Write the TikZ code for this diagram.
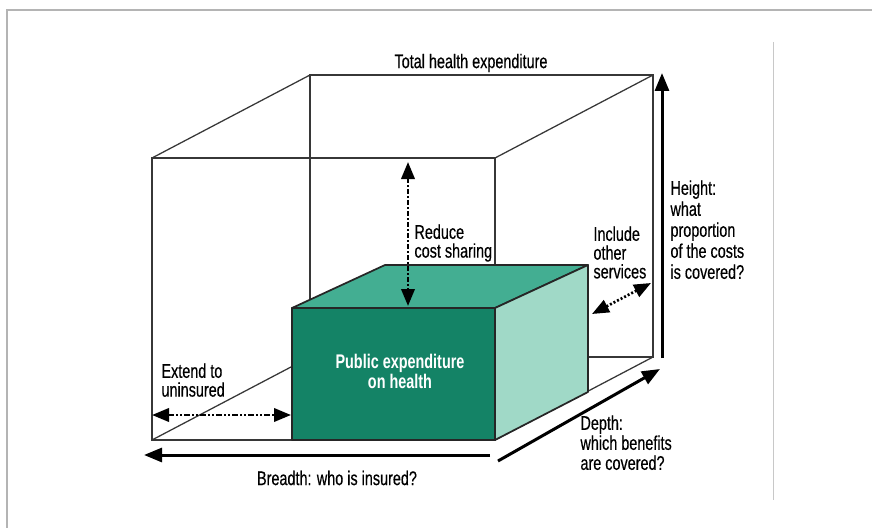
\documentclass[tikz,border=0pt]{standalone}
\usepackage{fontspec}
\setmainfont{Liberation Sans}[FakeStretch=0.73,UprightFeatures={FakeBold=0.4}]
\usetikzlibrary{arrows.meta}
\tikzset{every picture/.style={line width=0.75pt}}
\definecolor{boxfront}{RGB}{20,131,102}
\definecolor{boxtop}{RGB}{67,174,146}
\definecolor{boxside}{RGB}{160,217,199}
\definecolor{wire}{RGB}{55,55,55}

\begin{document}
\begin{tikzpicture}[x=0.75pt,y=0.75pt,yscale=-1,xscale=1,
	cube/.style={draw=wire,line width=0.95pt},
	boxface/.style={draw=black!85,line width=1.3pt,line join=round},
	bigarrow/.style={line width=2.25pt,-{Triangle[length=13.5pt,width=10.5pt]}},
	twoway/.style={line width=2pt,{Triangle[length=12.75pt,width=10pt]}-{Triangle[length=12.75pt,width=10pt]}},
	note/.style={font=\fontsize{14.8}{14.1}\selectfont,align=left,inner sep=0pt,anchor=north west}]
		\useasboundingbox (0,0) rectangle (872,528);
		
		%Shape: Page frame
		\draw [color={rgb, 255:red, 180; green, 180; blue, 180 },line width=1.5pt] (7,528) -- (7,10) -- (872,10) ;
		\draw [color={rgb, 255:red, 200; green, 200; blue, 200 },line width=0.75pt] (773,42) -- (773,500) ;
		
		%Corners of the total cube
		\coordinate (ftl) at (152,158);
		\coordinate (ftr) at (495,158);
		\coordinate (fbl) at (152,440);
		\coordinate (fbr) at (495,440);
		\coordinate (btl) at (310,75);
		\coordinate (btr) at (653,75);
		\coordinate (bbl) at (310,357);
		\coordinate (bbr) at (653,357);
		
		%Corners of the public box
		\coordinate (pfl) at (292,308);
		\coordinate (pfr) at (495,308);
		\coordinate (pbl) at (292,440);
		\coordinate (pbr) at (495,440);
		\coordinate (ptl) at (385,265);
		\coordinate (ptr) at (588,265);
		\coordinate (psb) at (588,392);
		
		%Shape: Total cube (wire)
		\draw [cube] (fbl) -- (ftl) -- (ftr) -- (fbr) -- cycle ;
		\draw [cube] (btl) -- (btr) -- (bbr) -- (bbl) -- cycle ;
		\draw [cube] (ftl) -- (btl) (ftr) -- (btr) (fbl) -- (bbl) (fbr) -- (bbr) ;
		
		%Shape: Public box
		\filldraw [boxface,fill=boxfront] (pfl) -- (pfr) -- (pbr) -- (pbl) -- cycle ;
		\filldraw [boxface,fill=boxtop] (pfl) -- (pfr) -- (ptr) -- (ptl) -- cycle ;
		\filldraw [boxface,fill=boxside] (pfr) -- (ptr) -- (psb) -- (pbr) -- cycle ;
		
		%Arrow ends
		\coordinate (h0) at (662,358);
		\coordinate (h1) at (662,73);
		\coordinate (b0) at (490,455);
		\coordinate (b1) at (144,455);
		\coordinate (d0) at (498,461);
		\coordinate (d1) at (660,369);
		\coordinate (r0) at (408,162);
		\coordinate (r1) at (408,306);
		\coordinate (i0) at (592,314);
		\coordinate (i1) at (651,283);
		\coordinate (e0) at (152,415);
		\coordinate (e1) at (291,415);
		
		%Straight Lines: dimensions
		\draw [bigarrow] (h0) -- (h1) ;
		\draw [bigarrow] (b0) -- (b1) ;
		\draw [bigarrow] (d0) -- (d1) ;
		
		%Straight Lines: changes
		\draw [twoway,dash pattern=on 3.75pt off 1.5pt on 1.5pt off 1.5pt] (r0) -- (r1) ;
		\draw [twoway,dash pattern=on 1.5pt off 1.5pt] (i0) -- (i1) ;
		\draw [twoway,dash pattern=on 4.5pt off 1.5pt on 1.5pt off 1.5pt on 1.5pt off 1.5pt] (e0) -- (e1) ;
		
		% Text Node
		\node [note,anchor=center] (total) at (471,63) {Total health expenditure};
		% Text Node
		\node [note,anchor=center,font=\bfseries\fontsize{14.8}{15}\selectfont,text=white,align=center] (public) at (400,371) {Public expenditure\\on health};
		% Text Node
		\node [note] (reduce) at (414,224) {Reduce\\cost sharing};
		% Text Node
		\node [note] (include) at (593,226) {Include\\other\\services};
		% Text Node
		\node [note,font=\fontsize{14.8}{15.75}\selectfont] (height) at (670,180) {Height:\\what\\proportion\\of the costs\\is covered?};
		% Text Node
		\node [note] (extend) at (161,363) {Extend to\\uninsured};
		% Text Node
		\node [note,font=\fontsize{14.8}{15}\selectfont] (depth) at (580,415) {Depth:\\which benefits\\are covered?};
		% Text Node
		\node [note,anchor=center] (breadth) at (337,478) {Breadth: who is insured?};
		
\end{tikzpicture}
\end{document}
